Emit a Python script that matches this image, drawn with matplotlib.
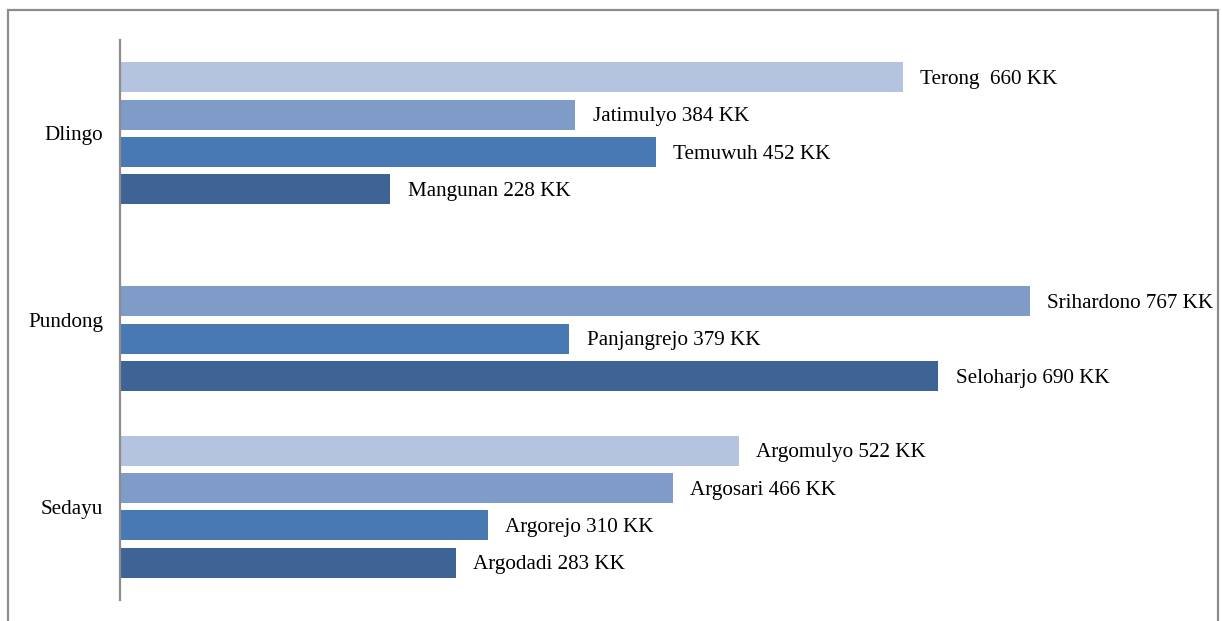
import numpy as np
import matplotlib
matplotlib.use('Agg')
from matplotlib import pyplot as plt
from matplotlib.patches import Rectangle

plt.rcParams['font.family'] = ['Liberation Serif', 'DejaVu Serif']

# kecamatan (categories), top to bottom
kecamatan = ['Dlingo', 'Pundong', 'Sedayu']

# four series per kecamatan, lightest first (None = no bar)
desa = [
    ['Terong ', 'Jatimulyo', 'Temuwuh', 'Mangunan'],
    [None, 'Srihardono', 'Panjangrejo', 'Seloharjo'],
    ['Argomulyo', 'Argosari', 'Argorejo', 'Argodadi'],
]
jumlah_kk = [
    [660, 384, 452, 228],
    [None, 767, 379, 690],
    [522, 466, 310, 283],
]

colors = ['#b4c3de', '#7f9cc9', '#4979b2', '#3d6495']

W, H = 1222, 621
fig = plt.figure(figsize=(W / 100, H / 100), dpi=100)

# outer frame (bottom edge runs off the picture)
fig.patches.append(Rectangle((8 / W, -0.05), 1210 / W, (H - 10) / H + 0.05,
                             transform=fig.transFigure, fill=False,
                             edgecolor='#8c8c8c', lw=1.6))

ax = fig.add_axes([120 / W, 21 / H, (1217 - 120) / W, 560 / H])

offsets = np.array([-1.5, -0.5, 0.5, 1.5]) * 0.2
for i, kec in enumerate(kecamatan):
    for j in range(4):
        v = jumlah_kk[i][j]
        if v is None:
            continue
        y = i + offsets[j]
        ax.barh(y, v, height=0.16, color=colors[j], edgecolor='none')
        ax.text(v + 14.5, y + 0.012, '%s %d KK' % (desa[i][j], v), va='center',
                ha='left', fontsize=15.2, color='black')

ax.set_xlim(0, (1217 - 120) / 1.186)
ax.set_ylim(2.5, -0.5)
ax.set_yticks(range(len(kecamatan)))
ax.set_yticklabels(kecamatan, fontsize=15.2)
ax.tick_params(axis='y', length=0, pad=12)
ax.set_xticks([])
for s in ['top', 'right', 'bottom']:
    ax.spines[s].set_visible(False)
ax.spines['left'].set_color('#8c8c8c')
ax.spines['left'].set_linewidth(1.6)
ax.patch.set_alpha(0)

fig.savefig('out.png', dpi=100)
